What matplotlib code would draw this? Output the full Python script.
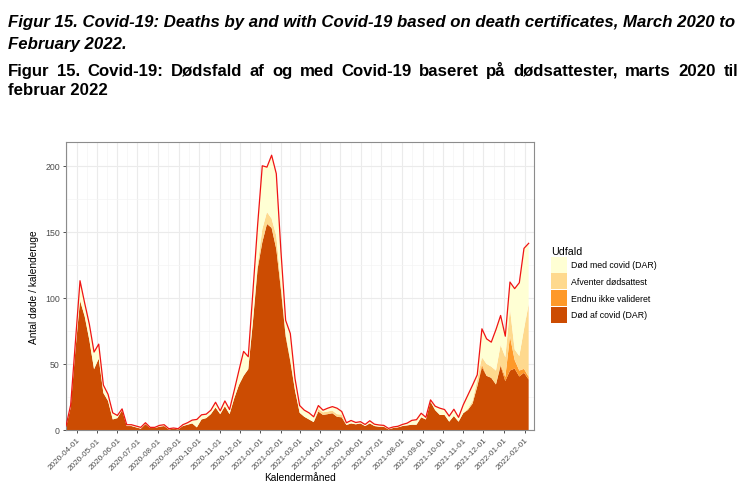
import matplotlib
matplotlib.use('Agg')
import matplotlib.pyplot as plt
import matplotlib.patches as mpatches
import numpy as np
import pandas as pd

# weekly deaths, week starting Monday
weeks = pd.date_range('2020-03-16', periods=100, freq='7D')

# red line: all deaths per week
total = [3, 19, 66, 113, 96, 80, 59, 65, 34, 27,
         13, 11, 16, 4, 4, 3, 2, 5.5, 2, 2,
         3.5, 4, 1, 1.5, 1, 4, 5.5, 7.5, 8, 11.5,
         12, 15, 21, 14.5, 22, 15.5, 30, 45, 59.5, 55.5,
         105, 155, 200, 199, 208, 194, 135, 83, 73, 39,
         18.5, 15, 13, 10, 18.5, 15, 16.5, 17.7, 16.5, 14,
         5.5, 7.2, 5.7, 6.3, 4.2, 7, 4.4, 3.8, 3.5, 1.2,
         2.3, 2.8, 4.2, 5.2, 7.3, 7.8, 12.7, 9.6, 22.8, 18,
         16.5, 15.5, 10.5, 15.7, 9.6, 19, 26.5, 34, 41.8, 76.6,
         69, 66.5, 76, 86.7, 71, 112, 107, 111.5, 137.5, 141.3]

dod_af = [2, 17, 60, 98, 86, 68, 46, 54, 28, 22,
          8, 9, 15, 3, 3, 2, 1, 4.5, 1.5, 1.5,
          2.5, 3, 0.5, 1, 0.5, 3, 4, 5, 2, 8,
          9, 12, 17, 12, 18, 12, 24, 34, 41, 46,
          82, 122, 142, 156, 153, 137, 106, 71, 52, 30,
          13, 10, 8, 6, 14, 11.4, 12, 12.7, 10, 9.6,
          3.8, 5, 4.3, 5, 3, 5, 3, 2.5, 2.5, 0.5,
          1.5, 2, 3, 3.5, 4, 4, 9.6, 8, 21.5, 15,
          11.4, 11.4, 6.3, 10.6, 6.3, 12.7, 15.2, 20, 33, 47.5,
          41, 39.5, 34.5, 48.5, 37, 45, 46.5, 40.5, 43.3, 38.2]

endnu = [0, 0, 0, 0, 0, 0, 0, 0, 0, 0,
         0, 0, 0, 0, 0, 0, 0, 0, 0, 0,
         0, 0, 0, 0, 0, 0, 0, 0, 0, 0,
         0, 0, 0, 0, 0, 0, 0, 0, 0, 0,
         0, 0, 0, 0, 0, 0, 0, 0, 0, 0,
         0, 0, 0, 0, 0, 0, 0, 0, 0, 0,
         0, 0, 0, 0, 0, 0, 0, 0, 0, 0,
         0, 0, 0, 0, 0, 0, 0, 0, 0, 0,
         0, 0, 0, 0, 0, 0, 0, 0, 0, 2,
         0, 0, 0, 1, 3, 26, 6.5, 4.5, 3, 2]

afventer = [0, 0, 0, 0, 0, 0, 0, 0, 0, 0,
            0, 0, 0, 0, 0, 0, 0, 0, 0, 0,
            0, 0, 0, 0, 0, 0, 0, 0, 0, 0,
            0, 0, 0, 0, 0, 0, 0, 0, 0, 0,
            0, 3, 10, 9, 7, 10, 4, 2, 1, 0,
            0, 0, 0, 0, 2, 2, 2, 2, 2, 2,
            0, 0, 0, 0, 0, 0, 0, 0, 0, 0,
            0, 0, 0, 0, 0, 0, 0, 0, 0, 0,
            0, 0, 0, 0, 0, 0, 1, 2, 5, 5.5,
            9, 8.5, 10.5, 15, 15, 21, 8, 11, 30, 55]

# "Død med covid" is what is left up to the total
med = np.array(total) - np.array(dod_af) - np.array(endnu) - np.array(afventer)

labels = ['Død af covid (DAR)', 'Endnu ikke valideret', 'Afventer dødsattest', 'Død med covid (DAR)']
colors = ['#CC4C02', '#FE9929', '#FED98E', '#FFFFD4']

W, H = 746, 502
fig = plt.figure(figsize=(W / 100, H / 100), dpi=100)
plt.rcParams['font.family'] = ['Liberation Sans', 'DejaVu Sans']

ax = fig.add_axes([66 / W, 1 - 431 / H, (534 - 66) / W, (431 - 143) / H])
ax.stackplot(weeks, dod_af, endnu, afventer, med, colors=colors, linewidth=0, zorder=2)
ax.plot(weeks, total, color='#F01414', lw=0.9, zorder=3)

ax.set_xlim(weeks[0], weeks[-1])
ax.set_ylim(0, 218)

months = pd.date_range('2020-04-01', '2022-02-01', freq='MS')
ax.set_xticks(months)
ax.set_xticklabels([m.strftime('%Y-%m-%d') for m in months], rotation=45, ha='right',
                   rotation_mode='anchor', fontsize=5.9, color='#4D4D4D')
mids = months[:-1] + (months[1:] - months[:-1]) / 2
ax.set_xticks(list(mids) + [months[0] - pd.Timedelta(days=15), months[-1] + pd.Timedelta(days=14)], minor=True)
ax.set_yticks([0, 50, 100, 150, 200])
ax.set_yticks([25, 75, 125, 175], minor=True)
ax.tick_params(axis='y', labelsize=6.3, labelcolor='#4D4D4D')
ax.tick_params(which='major', length=2.5, width=0.6, color='#333333', pad=2)
ax.tick_params(which='minor', length=0)
ax.grid(which='major', color='#EBEBEB', lw=0.8, zorder=0)
ax.grid(which='minor', color='#F4F4F4', lw=0.5, zorder=0)
ax.set_axisbelow(True)
for s in ax.spines.values():
    s.set_color('#8C8C8C')
    s.set_linewidth(0.8)

ax.set_xlabel('Kalendermåned', fontsize=7.3, labelpad=1)
ax.set_ylabel('Antal døde / kalenderuge', fontsize=7.3, labelpad=4)

handles = [mpatches.Patch(facecolor=c, edgecolor='none') for c in colors][::-1]
leg = fig.legend(handles, labels[::-1], loc='upper left', bbox_to_anchor=(543 / W, 1 - 239 / H),
                 frameon=False, fontsize=6.3, title='Udfald', title_fontsize=7.7,
                 handlelength=1.85, handleheight=2.4, labelspacing=0.1, handletextpad=0.4,
                 alignment='left')

# titles
TS = 12.1
fig.text(8 / W, 1 - 27 / H, 'Figur 15. Covid-19: Deaths by and with Covid-19 based on death certificates, March 2020 to',
         fontsize=TS, fontweight='bold', fontstyle='italic', va='baseline')
fig.text(8 / W, 1 - 49 / H, 'February 2022.', fontsize=TS, fontweight='bold', fontstyle='italic', va='baseline')

# justified first line of the Danish title
line1 = 'Figur 15. Covid-19: Dødsfald af og med Covid-19 baseret på dødsattester, marts 2020 til'
words = line1.split()
renderer = fig.canvas.get_renderer()
objs = [fig.text(0, 1 - 76 / H, w, fontsize=TS, fontweight='bold', va='baseline') for w in words]
widths = [o.get_window_extent(renderer).width for o in objs]
gap = ((738 - 8) - sum(widths)) / (len(words) - 1)
x = 8
for o, w in zip(objs, widths):
    o.set_x(x / W)
    x += w + gap
fig.text(8 / W, 1 - 95 / H, 'februar 2022', fontsize=TS, fontweight='bold', va='baseline')

fig.savefig('out.png', dpi=100)
